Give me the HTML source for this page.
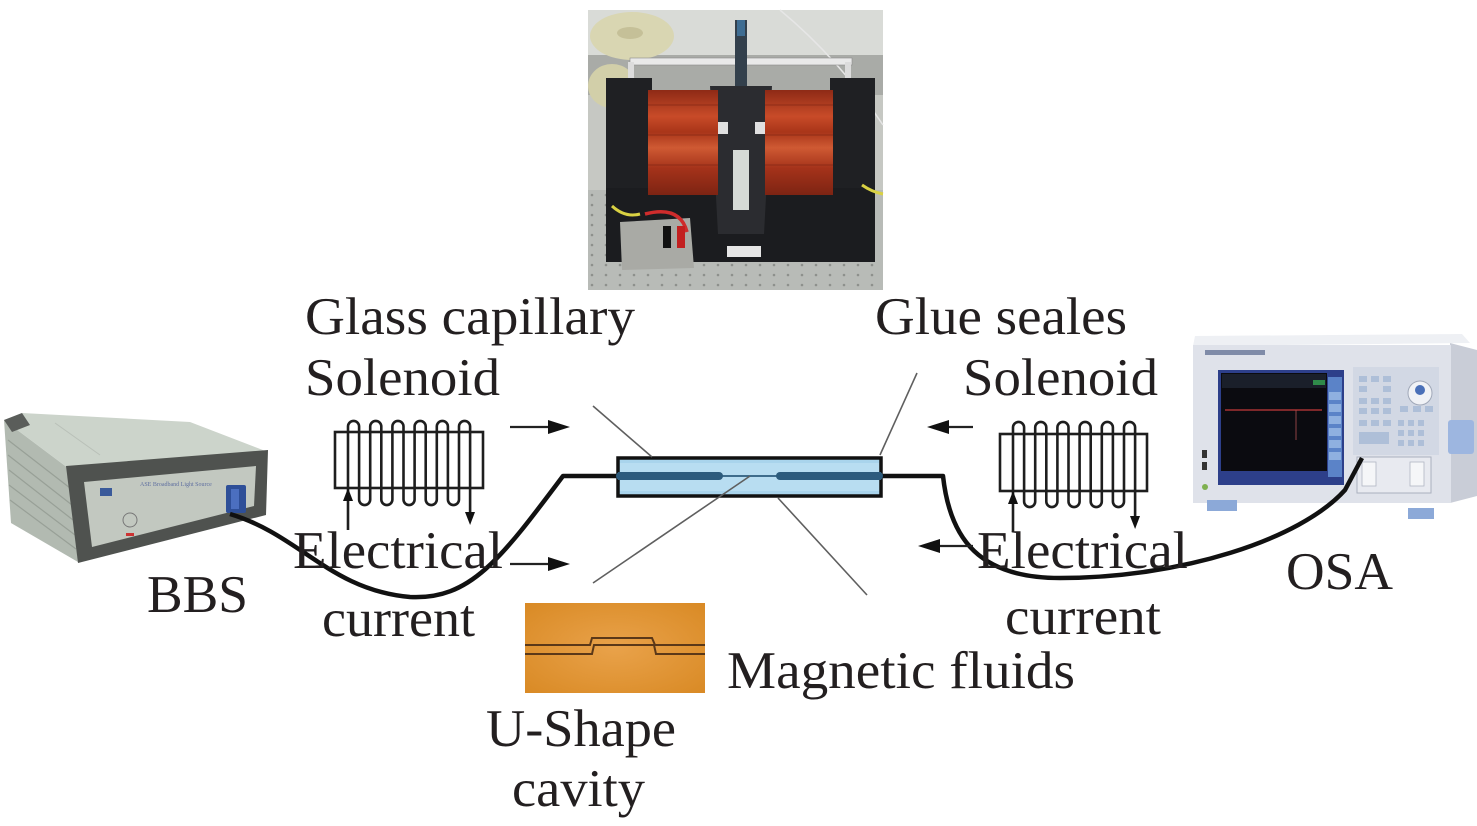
<!DOCTYPE html>
<html>
<head>
<meta charset="utf-8">
<style>
  html,body{margin:0;padding:0;background:#fff;}
  svg{display:block;}
  text{font-family:"Liberation Serif","Times New Roman",serif;font-size:53px;fill:#231f20;}
</style>
</head>
<body>
<svg width="1477" height="826" viewBox="0 0 1477 826" xmlns="http://www.w3.org/2000/svg">
  <defs>
    <pattern id="dots" x="0" y="0" width="14" height="10" patternUnits="userSpaceOnUse">
      <rect width="14" height="10" fill="#b8bbb7"/>
      <circle cx="4" cy="5" r="1.3" fill="#8d908c"/>
    </pattern>
    <linearGradient id="copper" x1="0" y1="0" x2="0" y2="1">
      <stop offset="0" stop-color="#8e2a16"/>
      <stop offset="0.25" stop-color="#c84b28"/>
      <stop offset="0.4" stop-color="#a93519"/>
      <stop offset="0.55" stop-color="#cf5a33"/>
      <stop offset="0.75" stop-color="#a4321a"/>
      <stop offset="1" stop-color="#7d2413"/>
    </linearGradient>
    <radialGradient id="orange" cx="0.5" cy="0.5" r="0.7">
      <stop offset="0" stop-color="#e9a24a"/>
      <stop offset="1" stop-color="#d98a25"/>
    </radialGradient>
  </defs>

  <rect width="1477" height="826" fill="#fff"/>

  <!-- ================= TOP PHOTO ================= -->
  <g>
    <rect x="588" y="10" width="295" height="280" fill="#c6c8c3"/>
    <rect x="588" y="10" width="295" height="45" fill="#d9dbd7"/>
    <rect x="588" y="55" width="295" height="40" fill="#a9aba7"/>
    <rect x="588" y="190" width="295" height="100" fill="url(#dots)"/>
    <!-- spools -->
    <ellipse cx="632" cy="36" rx="42" ry="24" fill="#d9d6b2"/>
    <ellipse cx="630" cy="33" rx="13" ry="6" fill="#c5c098"/>
    <ellipse cx="612" cy="86" rx="24" ry="22" fill="#d2cfa9"/>
    <!-- fiber in photo -->
    <path d="M780,10 Q840,60 883,125" stroke="#e6e6e6" stroke-width="1.5" fill="none"/>
    <!-- rod -->
    <rect x="630" y="58" width="222" height="7" fill="#e9e9e9" stroke="#8a8a8a" stroke-width="0.6"/>
    <rect x="628" y="62" width="6" height="30" fill="#dcdcdc"/>
    <rect x="845" y="62" width="6" height="22" fill="#dcdcdc"/>
    <!-- frame -->
    <rect x="606" y="78" width="46" height="184" fill="#1f2023"/>
    <rect x="830" y="78" width="45" height="184" fill="#1f2023"/>
    <rect x="606" y="188" width="269" height="74" fill="#1b1c1f"/>
    <polygon points="710,86 772,86 764,234 718,234" fill="#2b2c30"/>
    <!-- coils -->
    <rect x="648" y="90" width="70" height="105" fill="url(#copper)"/>
    <rect x="765" y="90" width="68" height="105" fill="url(#copper)"/>
    <g stroke="#7a2212" stroke-width="1" opacity="0.6">
      <line x1="648" y1="105" x2="718" y2="105"/><line x1="648" y1="135" x2="718" y2="135"/>
      <line x1="648" y1="165" x2="718" y2="165"/><line x1="765" y1="105" x2="833" y2="105"/>
      <line x1="765" y1="135" x2="833" y2="135"/><line x1="765" y1="165" x2="833" y2="165"/>
    </g>
    <rect x="718" y="122" width="10" height="12" fill="#e0e0e0"/>
    <rect x="755" y="122" width="10" height="12" fill="#e0e0e0"/>
    <rect x="733" y="150" width="16" height="60" fill="#d6dad6"/>
    <!-- vertical post -->
    <rect x="735" y="20" width="12" height="66" fill="#33404c"/>
    <rect x="737" y="20" width="8" height="16" fill="#3f6d92"/>
    <!-- box -->
    <polygon points="620,222 690,218 694,268 622,270" fill="#a9aaa5"/>
    <path d="M612,206 Q625,218 640,214" stroke="#d9d143" stroke-width="3" fill="none"/>
    <path d="M862,185 Q872,192 883,194" stroke="#d9d143" stroke-width="3" fill="none"/>
    <path d="M645,214 Q680,205 687,232" stroke="#cf2c2c" stroke-width="3.5" fill="none"/>
    <rect x="663" y="226" width="8" height="22" fill="#111"/>
    <rect x="677" y="226" width="8" height="22" fill="#c22020"/>
    <rect x="727" y="246" width="34" height="11" fill="#e6e6e6"/>
  </g>

  <!-- ================= BBS DEVICE ================= -->
  <g>
    <polygon points="4,420 68,468 78,562 11,523" fill="#b2bab1"/>
    <g stroke="#98a097" stroke-width="1.2">
      <line x1="8" y1="440" x2="70" y2="488"/>
      <line x1="8" y1="455" x2="72" y2="505"/>
      <line x1="9" y1="470" x2="73" y2="520"/>
      <line x1="9" y1="485" x2="75" y2="535"/>
      <line x1="10" y1="500" x2="76" y2="549"/>
    </g>
    <polygon points="4,420 22,413 190,422 268,452 68,468" fill="#ccd4cb"/>
    <polygon points="4,420 22,413 30,425 12,432" fill="#5a5d5a"/>
    <line x1="55" y1="423" x2="100" y2="455" stroke="#b9c0b8" stroke-width="1"/>
    <polygon points="66,466 268,450 266,515 78,563" fill="#4f524f"/>
    <polygon points="84,482 256,466 254,506 92,547" fill="#c2c8c0"/>
    <rect x="100" y="488" width="12" height="8" fill="#3a5a9a"/>
    <text x="140" y="486" style="font-size:6px;fill:#6070a0">ASE Broadband Light Source</text>
    <circle cx="130" cy="520" r="7" fill="none" stroke="#777" stroke-width="1"/>
    <rect x="126" y="533" width="8" height="3" fill="#c33"/>
    <rect x="226" y="485" width="20" height="28" rx="2" fill="#2e4f98"/>
    <rect x="231" y="489" width="8" height="20" fill="#4b6fc0"/>
  </g>

  <!-- ================= OSA DEVICE ================= -->
  <g>
    <polygon points="1195,336 1462,334 1470,343 1193,346" fill="#eef0f4"/>
    <polygon points="1450,343 1477,350 1477,496 1450,503" fill="#c9cdd7"/>
    <rect x="1193" y="345" width="258" height="158" fill="#dfe2ea"/>
    <rect x="1205" y="350" width="60" height="5" fill="#7f8ba8"/>
    <!-- screen -->
    <rect x="1218" y="370" width="126" height="115" fill="#2d3f8a"/>
    <rect x="1221" y="373" width="106" height="98" fill="#0b0b10"/>
    <rect x="1222" y="374" width="104" height="14" fill="#1a1f2a"/>
    <rect x="1313" y="380" width="12" height="5" fill="#2f8a4a"/>
    <line x1="1225" y1="410" x2="1322" y2="410" stroke="#c23a3a" stroke-width="1.2"/>
    <line x1="1296" y1="410" x2="1296" y2="440" stroke="#b05050" stroke-width="0.8"/>
    <rect x="1328" y="377" width="14" height="100" fill="#5b83c8"/>
    <g fill="#8fb0e0">
      <rect x="1329" y="392" width="12" height="8"/><rect x="1329" y="404" width="12" height="8"/>
      <rect x="1329" y="416" width="12" height="8"/><rect x="1329" y="428" width="12" height="8"/>
      <rect x="1329" y="440" width="12" height="8"/><rect x="1329" y="452" width="12" height="8"/>
    </g>
    <!-- left side buttons -->
    <rect x="1202" y="450" width="5" height="8" fill="#333"/>
    <rect x="1202" y="462" width="5" height="8" fill="#333"/>
    <circle cx="1205" cy="487" r="3" fill="#7fb050"/>
    <!-- control panel -->
    <rect x="1353" y="367" width="86" height="88" fill="#d2d8e4"/>
    <g fill="#aebfd8">
      <rect x="1359" y="376" width="8" height="6"/><rect x="1371" y="376" width="8" height="6"/><rect x="1383" y="376" width="8" height="6"/>
      <rect x="1359" y="386" width="8" height="6"/><rect x="1383" y="386" width="8" height="6"/>
      <rect x="1359" y="398" width="8" height="6"/><rect x="1371" y="398" width="8" height="6"/><rect x="1383" y="398" width="8" height="6"/>
      <rect x="1359" y="408" width="8" height="6"/><rect x="1371" y="408" width="8" height="6"/><rect x="1383" y="408" width="8" height="6"/>
      <rect x="1359" y="420" width="8" height="6"/><rect x="1371" y="420" width="8" height="6"/><rect x="1383" y="420" width="8" height="6"/>
      <rect x="1398" y="420" width="6" height="6"/><rect x="1408" y="420" width="6" height="6"/><rect x="1418" y="420" width="6" height="6"/>
      <rect x="1398" y="430" width="6" height="6"/><rect x="1408" y="430" width="6" height="6"/><rect x="1418" y="430" width="6" height="6"/>
      <rect x="1398" y="440" width="6" height="6"/><rect x="1408" y="440" width="6" height="6"/><rect x="1418" y="440" width="6" height="6"/>
      <rect x="1359" y="432" width="30" height="12"/>
      <rect x="1400" y="406" width="8" height="6"/><rect x="1413" y="406" width="8" height="6"/><rect x="1425" y="406" width="8" height="6"/>
    </g>
    <circle cx="1420" cy="393" r="12" fill="#f0f2f6" stroke="#a0a8b8" stroke-width="1"/>
    <circle cx="1420" cy="390" r="5" fill="#4a70b8"/>
    <rect x="1357" y="457" width="74" height="36" fill="#e8eaf0" stroke="#aab0be" stroke-width="1"/>
    <rect x="1362" y="462" width="14" height="24" fill="#f5f6f8" stroke="#b0b6c2" stroke-width="0.8"/>
    <rect x="1410" y="462" width="14" height="24" fill="#f5f6f8" stroke="#b0b6c2" stroke-width="0.8"/>
    <!-- feet & handle -->
    <rect x="1207" y="500" width="30" height="11" fill="#8ca9d8"/>
    <rect x="1408" y="508" width="26" height="11" fill="#8ca9d8"/>
    <rect x="1448" y="420" width="26" height="34" rx="3" fill="#9db6e0"/>
  </g>

  <!-- ================= FIBERS ================= -->
  <path d="M230,514 C300,535 330,590 410,597 C470,600 500,560 563,476 L618,476" stroke="#111" stroke-width="4.5" fill="none" stroke-linejoin="round"/>
  <path d="M880,476 L943,476 C950,540 980,578 1060,578 C1180,578 1300,540 1345,490 L1362,458" stroke="#111" stroke-width="4.5" fill="none" stroke-linejoin="round"/>

  <!-- ================= CAPILLARY ================= -->
  <rect x="618" y="458" width="263" height="38" fill="#a9d4ec" stroke="#111" stroke-width="3.5"/>
  <rect x="620" y="463" width="259" height="28" fill="#b8ddf1"/>
  <line x1="620" y1="476" x2="719" y2="476" stroke="#2d5b7d" stroke-width="8" stroke-linecap="round"/>
  <line x1="780" y1="476" x2="879" y2="476" stroke="#2d5b7d" stroke-width="8" stroke-linecap="round"/>
  <line x1="719" y1="476" x2="780" y2="476" stroke="#2d5b7d" stroke-width="1.8"/>
  <line x1="618" y1="476" x2="624" y2="476" stroke="#2d5b7d" stroke-width="8"/>
  <line x1="875" y1="476" x2="881" y2="476" stroke="#2d5b7d" stroke-width="8"/>

  <!-- ================= LEADER LINES ================= -->
  <g stroke="#5f5f5f" stroke-width="1.6">
    <line x1="593" y1="406" x2="652" y2="457"/>
    <line x1="917" y1="373" x2="880" y2="455"/>
    <line x1="778" y1="498" x2="867" y2="595"/>
    <line x1="593" y1="583" x2="750" y2="476"/>
  </g>

  <!-- ================= SOLENOIDS ================= -->
  <g stroke="#1e1e1e" stroke-width="2.6" fill="none">
    <rect x="335" y="432" width="148" height="56"/>
    <path d="M348,496 L348,426.5 A5.55,5.55 0 0 1 359.1,426.5 L359.1,499.5 A5.55,5.55 0 0 0 370.2,499.5 L370.2,426.5 A5.55,5.55 0 0 1 381.3,426.5 L381.3,499.5 A5.55,5.55 0 0 0 392.4,499.5 L392.4,426.5 A5.55,5.55 0 0 1 403.5,426.5 L403.5,499.5 A5.55,5.55 0 0 0 414.6,499.5 L414.6,426.5 A5.55,5.55 0 0 1 425.7,426.5 L425.7,499.5 A5.55,5.55 0 0 0 436.8,499.5 L436.8,426.5 A5.55,5.55 0 0 1 447.9,426.5 L447.9,499.5 A5.55,5.55 0 0 0 459,499.5 L459,426.5 A5.55,5.55 0 0 1 470.1,426.5 L470.1,514"/>
    <line x1="348" y1="530" x2="348" y2="496"/>

    <rect x="1000" y="434" width="147" height="57"/>
    <path d="M1013,499 L1013,427.5 A5.55,5.55 0 0 1 1024.1,427.5 L1024.1,501.5 A5.55,5.55 0 0 0 1035.2,501.5 L1035.2,427.5 A5.55,5.55 0 0 1 1046.3,427.5 L1046.3,501.5 A5.55,5.55 0 0 0 1057.4,501.5 L1057.4,427.5 A5.55,5.55 0 0 1 1068.5,427.5 L1068.5,501.5 A5.55,5.55 0 0 0 1079.6,501.5 L1079.6,427.5 A5.55,5.55 0 0 1 1090.7,427.5 L1090.7,501.5 A5.55,5.55 0 0 0 1101.8,501.5 L1101.8,427.5 A5.55,5.55 0 0 1 1112.9,427.5 L1112.9,501.5 A5.55,5.55 0 0 0 1124,501.5 L1124,427.5 A5.55,5.55 0 0 1 1135.1,427.5 L1135.1,518"/>
    <line x1="1013" y1="532" x2="1013" y2="499"/>
  </g>
  <g fill="#111">
    <polygon points="348,488 343,501 353,501"/>
    <polygon points="470.1,525 465,512 475,512"/>
    <polygon points="1013,491 1008,504 1018,504"/>
    <polygon points="1135.1,529 1130,516 1140,516"/>
  </g>

  <!-- ================= HORIZONTAL ARROWS ================= -->
  <g stroke="#222" stroke-width="2.2">
    <line x1="510" y1="427" x2="552" y2="427"/>
    <line x1="510" y1="564" x2="552" y2="564"/>
    <line x1="973" y1="427" x2="944" y2="427"/>
    <line x1="973" y1="546" x2="935" y2="546"/>
  </g>
  <g fill="#111">
    <polygon points="570,427 548,420 548,434"/>
    <polygon points="570,564 548,557 548,571"/>
    <polygon points="927,427 949,420 949,434"/>
    <polygon points="918,546 940,539 940,553"/>
  </g>

  <!-- ================= U-SHAPE PHOTO ================= -->
  <rect x="525" y="603" width="180" height="90" fill="url(#orange)"/>
  <g stroke="#5b3818" stroke-width="2" fill="none">
    <path d="M525,645 L590,645 L592,638 L652,638 L655,645 L705,645"/>
    <path d="M525,654 L592,654 L594,645 L654,645 L656,654 L705,654"/>
  </g>

  <!-- ================= LABELS ================= -->
  <text x="305" y="334" textLength="330" lengthAdjust="spacingAndGlyphs">Glass capillary</text>
  <text x="305" y="395" textLength="195" lengthAdjust="spacingAndGlyphs">Solenoid</text>
  <text x="875" y="334" textLength="252" lengthAdjust="spacingAndGlyphs">Glue seales</text>
  <text x="963" y="395" textLength="195" lengthAdjust="spacingAndGlyphs">Solenoid</text>
  <text x="293" y="568" textLength="210" lengthAdjust="spacingAndGlyphs">Electrical</text>
  <text x="322" y="636" textLength="153" lengthAdjust="spacingAndGlyphs">current</text>
  <text x="147" y="612" textLength="101" lengthAdjust="spacingAndGlyphs">BBS</text>
  <text x="977" y="568" textLength="211" lengthAdjust="spacingAndGlyphs">Electrical</text>
  <text x="1005" y="634" textLength="156" lengthAdjust="spacingAndGlyphs">current</text>
  <text x="1286" y="589" textLength="107" lengthAdjust="spacingAndGlyphs">OSA</text>
  <text x="727" y="688" textLength="348" lengthAdjust="spacingAndGlyphs">Magnetic fluids</text>
  <text x="486" y="746" textLength="190" lengthAdjust="spacingAndGlyphs">U-Shape</text>
  <text x="512" y="806" textLength="133" lengthAdjust="spacingAndGlyphs">cavity</text>
</svg>
</body>
</html>
